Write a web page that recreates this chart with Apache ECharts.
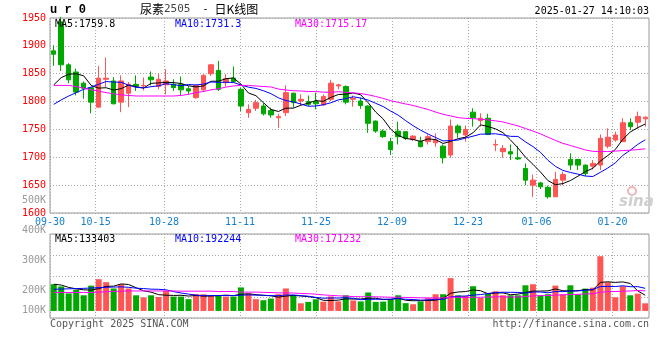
<!DOCTYPE html>
<html>
<head>
<meta charset="utf-8">
<script src="https://cdn.jsdelivr.net/npm/echarts@6/dist/echarts.min.js"></script>
<style>html,body{margin:0;padding:0;background:#fff}#c{width:660px;height:360px}</style>
</head>
<body>
<div id="c"></div>
<script>
const dates = ['09-30',
'10-08','10-09','10-10','10-11','10-14','10-15','10-16','10-17','10-18',
'10-21','10-22','10-23','10-24','10-25','10-28','10-29','10-30','10-31','11-01',
'11-04','11-05','11-06','11-07','11-08','11-11','11-12','11-13','11-14','11-15',
'11-18','11-19','11-20','11-21','11-22','11-25','11-26','11-27','11-28','11-29',
'12-02','12-03','12-04','12-05','12-06','12-09','12-10','12-11','12-12','12-13',
'12-16','12-17','12-18','12-19','12-20','12-23','12-24','12-25','12-26','12-27',
'12-30','12-31','01-02','01-03','01-06','01-07','01-08','01-09','01-10',
'01-13','01-14','01-15','01-16','01-17','01-20','01-21','01-22','01-23','01-24',
'01-27'];
const xLabelDates = ['09-30','10-15','10-28','11-11','11-25','12-09','12-23','01-06','01-20'];

const openP = [1891,1943,1866,1853,1833,1825,1790,1840,1837,1799,
1815,1831,1828,1844,1827,1830,1831,1831,1823,1807,
1821,1850,1856,1834,1842,1822,1780,1788,1792,1784,
1771,1780,1815,1801,1800,1800,1794,1804,1828,1827,
1804,1801,1792,1765,1747,1728,1747,1746,1732,1729,
1728,1726,1720,1704,1756,1740,1781,1766,1770,1722,
1710,1710,1699,1680,1650,1654,1646,1629,1659,1696,
1696,1686,1684,1686,1720,1731,1728,1762,1763,1769];
const closeP = [1885,1866,1839,1817,1824,1799,1842,1842,1796,1837,
1831,1828,1829,1839,1840,1837,1825,1821,1819,1829,
1847,1866,1822,1841,1836,1792,1786,1798,1778,1776,
1773,1816,1798,1804,1795,1796,1809,1833,1830,1799,
1806,1793,1761,1747,1737,1714,1737,1734,1738,1719,
1737,1731,1699,1756,1744,1750,1771,1770,1741,1723,
1716,1706,1697,1659,1659,1647,1629,1660,1669,1686,
1686,1671,1689,1734,1736,1740,1762,1755,1773,1772];
const lowP = [1864,1855,1833,1811,1805,1779,1790,1826,1795,1781,
1790,1819,1820,1829,1822,1813,1819,1810,1813,1805,
1817,1846,1819,1827,1834,1783,1771,1783,1775,1771,
1753,1774,1789,1793,1792,1786,1792,1801,1822,1795,
1791,1787,1744,1744,1735,1704,1723,1731,1729,1718,
1723,1719,1689,1699,1735,1728,1755,1755,1740,1711,
1699,1695,1695,1650,1629,1643,1626,1629,1650,1677,
1677,1666,1678,1677,1716,1728,1728,1749,1751,1755];
const highP = [1901,1952,1869,1859,1836,1825,1864,1879,1844,1847,
1835,1847,1843,1854,1850,1858,1840,1845,1828,1831,
1849,1867,1873,1849,1863,1825,1795,1803,1797,1789,
1778,1829,1816,1813,1811,1816,1813,1839,1832,1829,
1811,1807,1793,1766,1750,1735,1764,1747,1740,1737,
1741,1743,1723,1768,1759,1757,1788,1779,1778,1732,
1722,1723,1720,1689,1669,1656,1649,1674,1674,1707,
1697,1687,1695,1741,1752,1746,1770,1770,1782,1773];

const ma5 = [1830,1843,1849,1850,1846.2,1829,1824.2,1824.8,1820.6,1823.2,
1829.6,1826.8,1824.2,1832.8,1833.4,1834.6,1834,1832.4,1828.4,1826.2,
1828.2,1836.4,1836.6,1841,1842.4,1831.4,1815.4,1810.6,1798,1786,
1782.2,1788.2,1788.2,1793.4,1797.2,1801.8,1800.4,1807.4,1812.6,1813.4,
1815.4,1812.2,1797.8,1781.2,1768.8,1750.4,1739.2,1733.8,1732,1728.4,
1733,1731.8,1724.8,1728.4,1733.4,1736,1744,1758.2,1755.2,1751,
1744.2,1731.2,1716.6,1700.2,1687.4,1673.6,1658.2,1650.8,1652.8,1658.2,
1666,1674.4,1680.2,1693.2,1703.2,1714,1732.2,1745.4,1753.2,1759.8];
const ma10 = [1795,1803,1810,1816,1822,1826,1831,1836,1835,1834.7,
1829.3,1825.5,1824.5,1826.7,1828.3,1832.1,1830.4,1828.3,1830.6,1829.8,
1831.4,1835.2,1834.5,1834.7,1834.3,1829.8,1825.9,1823.6,1819.5,1814.2,
1806.8,1801.8,1799.4,1795.7,1791.6,1792,1794.3,1797.8,1803,1805.3,
1808.6,1806.3,1802.6,1796.9,1791.1,1782.9,1775.7,1765.8,1756.6,1748.6,
1741.7,1735.5,1729.3,1730.2,1730.9,1734.5,1737.9,1741.5,1741.8,1742.2,
1740.1,1737.6,1737.4,1727.7,1719.2,1708.9,1694.7,1683.7,1676.5,1672.8,
1669.8,1666.3,1665.5,1673,1680.7,1690,1703.3,1712.8,1723.2,1731.3];
const ma30 = [1829,1829,1829,1827,1824,1821,1819,1816,1814,1812,
1811,1810,1810,1810,1810,1810,1810,1811,1813,1816,
1818,1821,1823,1826,1828,1829,1829,1828,1827,1826.2,
1822.5,1820.8,1819.5,1819,1818.1,1818,1816.9,1816.6,1817.7,1816.4,
1815.6,1814.4,1812.2,1809.1,1805.7,1801.6,1798.6,1795.7,1793,1789.4,
1785.7,1781.2,1777.1,1774.3,1771.2,1769.8,1769.3,1768.4,1767.1,1765.4,
1763.5,1759.8,1756.4,1751.6,1747.1,1742.1,1736.1,1730.3,1725,1721.2,
1717.2,1713.1,1710.7,1710.3,1710.3,1711.1,1712,1712.7,1713.8,1715.17];

const volume = [227000,208000,149000,181000,133000,215000,270000,245000,191000,227000,
191000,133000,115000,133000,119000,170000,122000,122000,100000,142000,
142000,132000,133000,122000,122000,200000,149000,100000,91000,105000,
142000,191000,133000,65000,77000,99000,79000,123000,81000,133000,
89000,81000,157000,77000,79000,99000,133000,66000,57000,81000,
109000,142000,142000,279000,133000,128000,210000,110000,147000,167000,
133000,133000,133000,218000,227000,133000,142000,215000,142000,218000,
142000,190000,198000,465000,244000,116000,210000,133000,147000,65000];
const volMa5 = [227000,220000,200000,188000,179600,177200,189600,208800,210800,229600,
224800,197400,171400,159800,138200,134000,131800,133200,126600,131200,
125600,127600,129800,134200,130200,141800,145200,138600,132400,129000,
117400,125800,132400,127200,121600,113000,90600,88600,91800,103000,
101000,101400,108200,107400,96600,98600,109000,90800,86800,87200,
89200,91000,106200,150600,161000,164800,178400,172000,145600,152400,
153400,138000,142600,156800,168800,168800,170600,187000,171800,170000,
171800,181400,178000,242600,247800,242600,246600,233600,170000,133403];
const volMa10 = [184000,186000,188000,190000,192000,195000,198000,201000,203000,204600,
201000,193500,190100,185300,183900,179400,164600,152300,143200,134700,
129800,129700,131500,130400,130700,133700,136400,134200,133300,129600,
129600,135500,135500,129800,125300,115200,108200,110500,109500,112300,
107000,96000,98400,99600,99800,99800,105200,99500,97100,91900,
93900,100000,98500,118700,124100,127000,134700,139100,148100,156700,
159100,158200,157300,151200,160600,161100,154300,164800,164300,169400,
170300,176000,182500,207200,208900,207200,214000,205800,206300,192244];
const volMa30 = [157000,157000,157000,157000,157000,157000,160000,163000,166000,168000,
170000,170000,170000,170000,170000,170000,170000,168000,168000,168000,
168000,168000,165000,165000,165000,160000,160000,160000,158000,156300,
153500,152900,152400,148500,146600,142800,136400,132300,128700,125500,
122100,120400,121800,119900,118600,116200,116600,114700,113300,111300,
110200,110500,110800,116000,116400,114000,116000,116400,118200,120300,
120000,118100,118100,123200,128200,129300,131400,134500,136500,139300,
141100,144700,146100,159000,164500,165100,167700,169900,172900,171232];

const priceTicks = [1600, 1950, 50];
const volTickValues = [100000,200000,300000,400000,500000];
const volTickLabels = ['100K','200K','300K','400K','500K'];

const MONO = '"DejaVu Sans Mono", "Liberation Mono", monospace';
const RED = '#ff5555', GREEN = '#00a800';
const GRIDLINE = {show:true, lineStyle:{color:'#a8a8a8', width:1, type:[1,2]}};
const labelIdx = xLabelDates.map(d => dates.indexOf(d));

const candles = dates.map((d,i) => [openP[i], closeP[i], lowP[i], highP[i]]);
const volBars = volume.map((v,i) => ({value:v, itemStyle:{color: closeP[i] >= openP[i] ? RED : GREEN}}));

function txt(x, y, text, fill, align, font) {
  return {type:'text', x:x, y:y, z:100, silent:true,
    style:{text:text, fill:fill, font: font || ('10px ' + MONO), align: align || 'left', verticalAlign:'middle'}};
}
function hiddenCat(g) {
  return {type:'category', gridIndex:g, data:dates, position:'top', boundaryGap:true,
    axisLine:{show:false}, axisTick:{show:false}, axisLabel:{show:false}, splitLine:{show:false}};
}
function lineS(name, data, color, xi, yi) {
  return {type:'line', name:name, data:data, xAxisIndex:xi, yAxisIndex:yi, showSymbol:false, symbol:'none',
    z:5, lineStyle:{color:color, width:1}, itemStyle:{color:color}, silent:true};
}

const chart = echarts.init(document.getElementById('c'), null, {renderer:'canvas'});
chart.setOption({
  animation:false,
  backgroundColor:'#ffffff',
  grid:[
    {left:50, top:18, width:599, height:195, show:true, borderColor:'#999', borderWidth:1, backgroundColor:'rgba(0,0,0,0)', outerBoundsMode:'none', containLabel:false},
    {left:50, top:234, width:599, height:84, show:true, borderColor:'#999', borderWidth:1, backgroundColor:'rgba(0,0,0,0)', outerBoundsMode:'none', containLabel:false},
    {left:50, top:200, width:599, height:120, show:false, outerBoundsMode:'none', containLabel:false}
  ],
  xAxis:[
    hiddenCat(0),
    hiddenCat(1),
    {type:'value', gridIndex:0, min:0, max:78.8, position:'bottom',
      axisLine:{show:false}, axisTick:{show:false, customValues:labelIdx},
      axisLabel:{show:true, customValues:labelIdx, formatter: v => dates[Math.round(v)], color:'#1480d0',
        fontFamily:MONO, fontSize:10, margin:4, hideOverlap:false},
      splitLine:GRIDLINE},
    {type:'value', gridIndex:1, min:0, max:78.8, position:'bottom',
      axisLine:{show:false}, axisTick:{show:false, customValues:labelIdx},
      axisLabel:{show:false, customValues:labelIdx}, splitLine:GRIDLINE},
    {type:'value', gridIndex:2, show:false}
  ],
  yAxis:[
    {type:'value', gridIndex:0, min:priceTicks[0], max:priceTicks[1], interval:priceTicks[2], position:'left',
      axisLine:{show:false}, axisTick:{show:false},
      axisLabel:{color:'#ff0000', fontFamily:MONO, fontSize:10, margin:4, showMinLabel:true, showMaxLabel:true,
        padding:[0,0,3,0], hideOverlap:false, formatter: v => String(Math.round(v))},
      splitLine:GRIDLINE},
    {type:'value', gridIndex:1, min:-60000, max:654000, position:'left',
      axisLine:{show:false}, axisTick:{show:false}, axisLabel:{show:false}, splitLine:{show:false}},
    {type:'value', gridIndex:1, min:0, max:4, interval:1, position:'right',
      axisLine:{show:false}, axisTick:{show:false}, axisLabel:{show:false}, splitLine:GRIDLINE},
    {type:'value', gridIndex:2, min:volTickValues[0], max:volTickValues[volTickValues.length-1], interval:100000, position:'left',
      axisLine:{show:false}, axisTick:{show:false}, splitLine:{show:false},
      axisLabel:{color:'#999', fontFamily:MONO, fontSize:10, margin:4, showMinLabel:true, showMaxLabel:true, hideOverlap:false,
        formatter: v => {
          const k = volTickValues.indexOf(Math.round(v));
          const s = k >= 0 ? volTickLabels[k] : '';
          return k === 0 ? '{lo|' + s + '}' : s;
        },
        rich:{lo:{color:'#999', fontFamily:MONO, fontSize:10, padding:[0,0,20,0]}}}}
  ],
  series:[
    {type:'candlestick', name:'K', data:candles, xAxisIndex:0, yAxisIndex:0, barWidth:5, z:2, silent:true,
      itemStyle:{color:RED, color0:GREEN, borderColor:RED, borderColor0:GREEN, borderWidth:1}},
    lineS('MA5', ma5, '#000000', 0, 0),
    lineS('MA10', ma10, '#0000ff', 0, 0),
    lineS('MA30', ma30, '#ff00ff', 0, 0),
    {type:'bar', name:'VOL', data:volBars, xAxisIndex:1, yAxisIndex:1, barWidth:6, z:2, silent:true},
    lineS('VMA5', volMa5, '#000000', 1, 1),
    lineS('VMA10', volMa10, '#0000ff', 1, 1),
    lineS('VMA30', volMa30, '#ff00ff', 1, 1)
  ],
  graphic:[
    txt(50, 10, 'u r 0', '#000', 'left', 'bold 12px "Liberation Mono", monospace'),
    {type:'text', x:140, y:9, z:100, silent:true, style:{
      text:'{a|尿素}{b|2505}{c|  - }{a|日K线图}', align:'left', verticalAlign:'middle',
      rich:{
        a:{fontFamily:'"Noto Sans CJK SC", sans-serif', fontSize:12, fill:'#000', verticalAlign:'middle'},
        b:{fontFamily:MONO, fontSize:11, fill:'#444', verticalAlign:'middle'},
        c:{fontFamily:MONO, fontSize:10, fill:'#000', verticalAlign:'middle'}
      }}},
    txt(649, 11, '2025-01-27 14:10:03', '#000', 'right'),
    txt(55, 24, 'MA5:1759.8', '#000'),
    txt(175, 24, 'MA10:1731.3', '#0000ff'),
    txt(295, 24, 'MA30:1715.17', '#ff00ff'),
    txt(55, 239, 'MA5:133403', '#000'),
    txt(175, 239, 'MA10:192244', '#0000ff'),
    txt(295, 239, 'MA30:171232', '#ff00ff'),
    txt(50, 324, 'Copyright 2025 SINA.COM', '#555'),
    txt(649, 324, 'http://finance.sina.com.cn', '#555', 'right'),
    {type:'circle', z:1, silent:true, shape:{cx:632, cy:191, r:4}, style:{fill:'none', stroke:'#f2b4b4', lineWidth:2}},
    txt(619, 202, 'sina', '#cfcfcf', 'left', 'italic bold 15px "DejaVu Sans", sans-serif')
  ]
});
</script>
</body>
</html>
